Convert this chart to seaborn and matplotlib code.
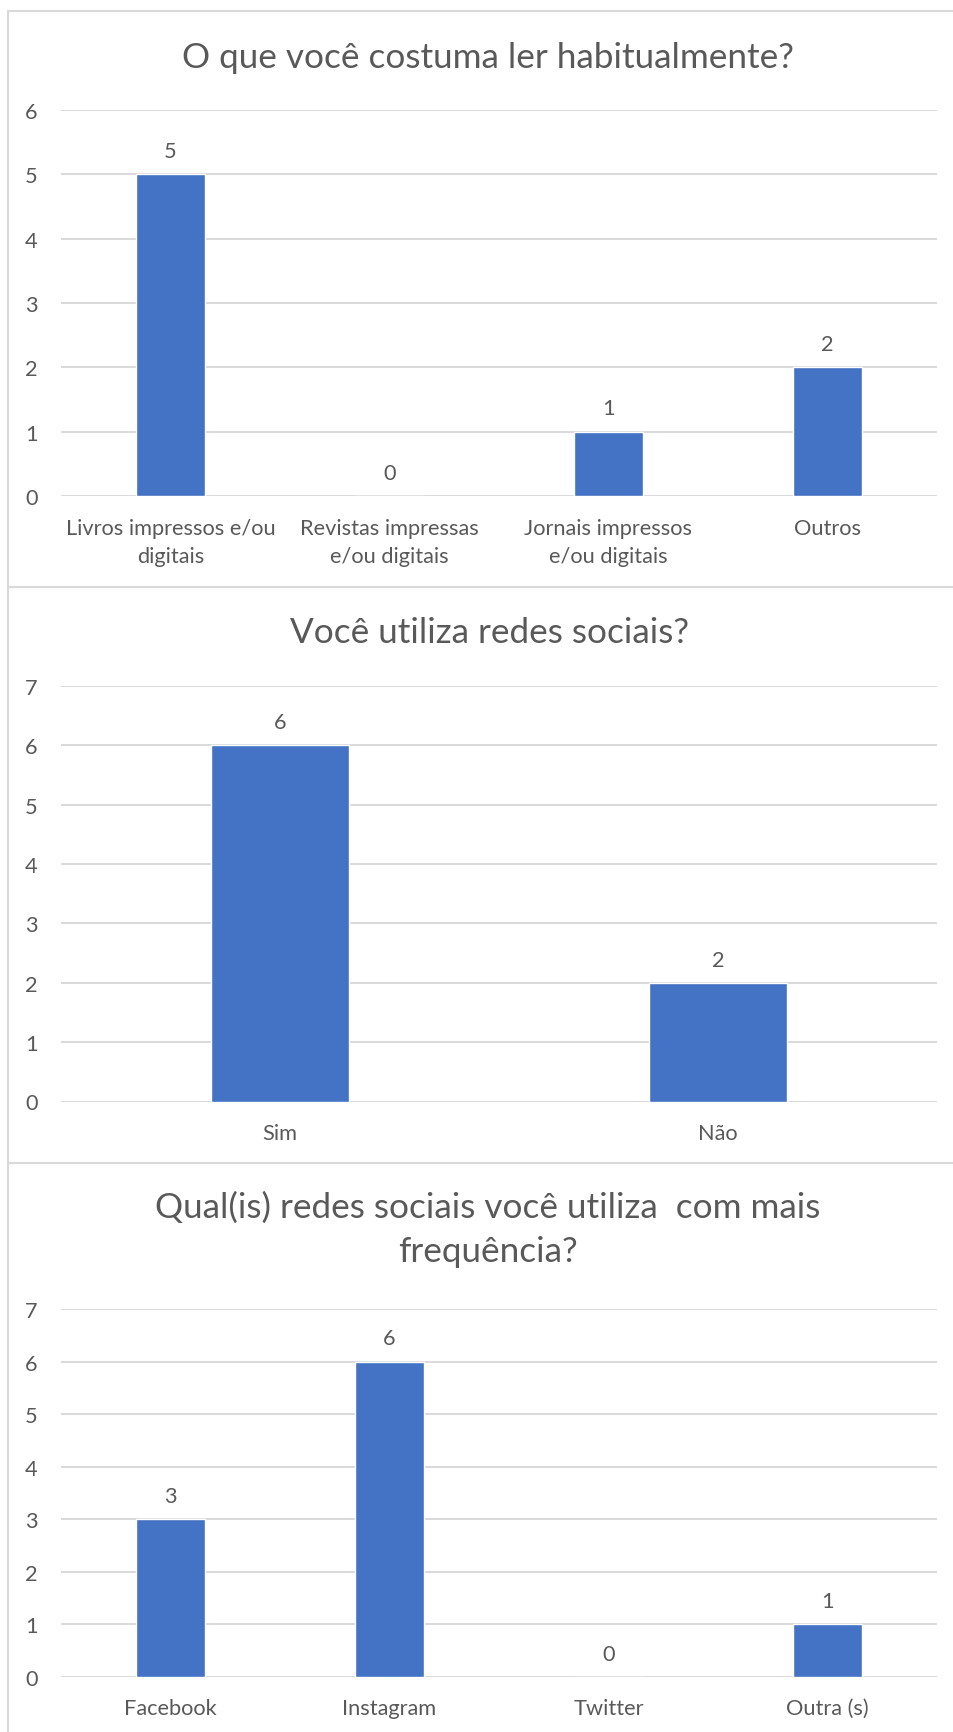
import matplotlib
matplotlib.use("Agg")
import matplotlib.pyplot as plt
from matplotlib import font_manager
from matplotlib.lines import Line2D
import seaborn as sns

# Survey answers
q1_title = "O que você costuma ler habitualmente?"
q1_categories = ["Livros impressos e/ou\ndigitais", "Revistas impressas\ne/ou digitais",
                 "Jornais impressos\ne/ou digitais", "Outros"]
q1_values = [5, 0, 1, 2]
q1_ymax = 6

q2_title = "Você utiliza redes sociais?"
q2_categories = ["Sim", "Não"]
q2_values = [6, 2]
q2_ymax = 7

q3_title = "Qual(is) redes sociais você utiliza  com mais\nfrequência?"
q3_categories = ["Facebook", "Instagram", "Twitter", "Outra (s)"]
q3_values = [3, 6, 0, 1]
q3_ymax = 7

W, H = 954, 1733
BAR = "#4472C4"
TEXT = "#595959"
GRID = "#D9D9D9"
LABEL_SIZE = 15.7
TITLE_SIZE = 25.3

sns.set_theme(style="white")
available = {f.name for f in font_manager.fontManager.ttflist}
family = next((f for f in ["Lato", "Open Sans", "DejaVu Sans"] if f in available), "DejaVu Sans")
plt.rcParams["font.family"] = [family, "DejaVu Sans"]

fig = plt.figure(figsize=(W / 100, H / 100), dpi=100)
fig.patch.set_facecolor("white")


def px_axes(left, top, right, bottom):
    return fig.add_axes([left / W, 1 - bottom / H, (right - left) / W, (bottom - top) / H])


def draw_panel(ax, cats, vals, ymax):
    sns.barplot(x=cats, y=vals, color=BAR, saturation=1, width=0.313, ax=ax, zorder=3)
    ax.set_ylim(0, ymax)
    ax.set_xlim(-0.5, len(cats) - 0.5)
    ax.set_yticks(range(0, ymax + 1))
    ax.yaxis.grid(True, color=GRID, linewidth=1.4, zorder=0)
    ax.xaxis.grid(False)
    ax.set_axisbelow(True)
    for s in ax.spines.values():
        s.set_visible(False)
    ax.tick_params(axis="y", length=0, pad=17, labelsize=LABEL_SIZE, labelcolor=TEXT)
    ax.tick_params(axis="x", length=0, pad=15.5, labelsize=LABEL_SIZE, labelcolor=TEXT)
    for lab in ax.get_xticklabels():
        lab.set_linespacing(1.52)
    ax.set_xlabel("")
    ax.set_ylabel("")
    for cont in ax.containers:
        ax.bar_label(cont, labels=[str(v) for v in vals], padding=9.5,
                     fontsize=LABEL_SIZE, color=TEXT)
    ax.set_facecolor("none")


ax1 = px_axes(61, 111, 937, 497)
draw_panel(ax1, q1_categories, q1_values, q1_ymax)
fig.text(488 / W, 1 - 68 / H, q1_title, ha="center", va="baseline",
         fontsize=TITLE_SIZE, color=TEXT)

ax2 = px_axes(61, 687, 937, 1102.5)
draw_panel(ax2, q2_categories, q2_values, q2_ymax)
fig.text(490 / W, 1 - 643 / H, q2_title, ha="center", va="baseline",
         fontsize=TITLE_SIZE, color=TEXT)

ax3 = px_axes(61, 1310, 937, 1677.7)
draw_panel(ax3, q3_categories, q3_values, q3_ymax)
fig.text(488 / W, 1 - 1262 / H, q3_title, ha="center", va="baseline",
         fontsize=TITLE_SIZE, color=TEXT, linespacing=1.47)

# Chart frames
for y in (11.7, 588, 1164):
    fig.add_artist(Line2D([8.5 / W, 1], [1 - y / H, 1 - y / H], color=GRID, linewidth=1.5))
fig.add_artist(Line2D([8.5 / W, 8.5 / W], [1 - 11.7 / H, 0], color=GRID, linewidth=1.5))

fig.savefig("out.png", dpi=100, facecolor="white")
